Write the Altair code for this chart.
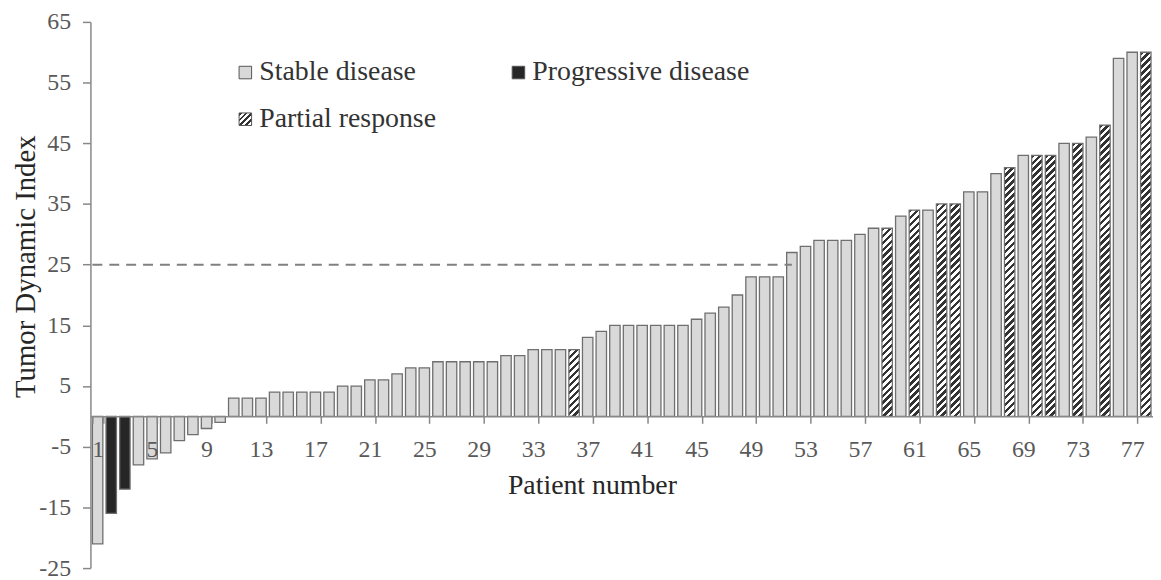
import json
import altair as alt
import pandas as pd

# ---------------- data ----------------
patients = list(range(1, 79))
tdi = [-21, -16, -12, -8, -7, -6, -4, -3, -2, -1,
       3, 3, 3, 4, 4, 4, 4, 4, 5, 5,
       6, 6, 7, 8, 8, 9, 9, 9, 9, 9,
       10, 10, 11, 11, 11, 11, 13, 14, 15, 15,
       15, 15, 15, 15, 16, 17, 18, 20, 23, 23,
       23, 27, 28, 29, 29, 29, 30, 31, 31, 33,
       34, 34, 35, 35, 37, 37, 40, 41, 43, 43,
       43, 45, 45, 46, 48, 59, 60, 60]
progressive_patients = [2, 3]
partial_patients = [36, 59, 61, 63, 64, 68, 70, 71, 73, 75, 78]
# legend is laid out column by column: this order gives
# row 1: Stable / Progressive, row 2: Partial
categories = ["Stable disease", "Partial response", "Progressive disease"]
x_tick_labels = list(range(1, 78, 4))
y_tick_values = list(range(-25, 66, 10))
threshold = 25
threshold_end_patient = 52

# ---------------- layout ----------------
W, H = 1070, 550
Y_MIN, Y_MAX = -25, 65
px_per_unit = H / (Y_MAX - Y_MIN)
pad_inner, pad_outer = 0.234, 0.146
step = W / (len(patients) - pad_inner + 2 * pad_outer)
bar_w = step * (1 - pad_inner)

FONT = "Liberation Serif"
GREY = "#888888"


def hatch(w, h, period=7.0, frac=0.5, dark="#333333", light="#ffffff"):
    """Linear gradient with hard stops giving '/' stripes on a w x h box."""
    L = w + h
    s = L / (w * w + h * h)
    stops = []
    k = 0
    while k * period < L:
        a = k * period / L
        b = min((k * period + frac * period) / L, 1.0)
        c = min((k + 1) * period / L, 1.0)
        stops += [(a, dark), (b, dark), (b, light), (c, light)]
        k += 1
    return {"gradient": "linear", "x1": 0, "y1": 0,
            "x2": round(s * w, 6), "y2": round(s * h, 6),
            "stops": [{"offset": round(o, 6), "color": col} for o, col in stops]}


def response_of(p):
    if p in progressive_patients:
        return "Progressive disease"
    if p in partial_patients:
        return "Partial response"
    return "Stable disease"


df = pd.DataFrame({
    "patient": patients,
    "tdi": tdi,
    "response": [response_of(p) for p in patients],
})

rule_df = pd.DataFrame({"start": [patients[0]], "end": [threshold_end_patient], "tdi": [threshold]})

# per-bar hatch gradients for partial responses
conds = []
for p in partial_patients:
    v = tdi[patients.index(p)]
    conds.append({"test": f"datum.patient === {p}",
                  "value": hatch(bar_w, abs(v) * px_per_unit, period=7.0)})

legend_grad_expr = json.dumps(hatch(12.6, 12.6, period=6.0))
color_range = {"Stable disease": "#d9d9d9",
               "Partial response": alt.ExprRef(expr=legend_grad_expr),
               "Progressive disease": "#262626"}

x_enc = alt.X(
    "patient:O",
    scale=alt.Scale(domain=patients, paddingInner=pad_inner, paddingOuter=pad_outer),
    title="Patient number",
    axis=alt.Axis(
        values=x_tick_labels, tickBand="extent", offset=-(0 - Y_MIN) * px_per_unit,
        labelAngle=0, tickSize=7, tickColor=GREY, tickWidth=1.5,
        domainColor=GREY, domainWidth=1.5, grid=False,
        labelFont=FONT, labelFontSize=24, labelColor="#595959", labelPadding=14,
        titleFont=FONT, titleFontSize=28, titleFontWeight="normal", titleColor="#262626",
        titleX=505, titleY=56, zindex=1,
    ),
)

y_enc = alt.Y(
    "tdi:Q",
    scale=alt.Scale(domain=[Y_MIN, Y_MAX], nice=False, zero=False),
    title="Tumor Dynamic Index",
    axis=alt.Axis(
        values=y_tick_values, labelExpr="'' + datum.value",
        tickSize=8, tickColor=GREY, tickWidth=1.5,
        domainColor=GREY, domainWidth=1.5, grid=False,
        labelFont=FONT, labelFontSize=24, labelColor="#595959", labelPadding=12,
        titleFont=FONT, titleFontSize=29, titleFontWeight="normal", titleColor="#262626",
        titleX=-65, titleY=246, titleBaseline="middle", titleAngle=270, titleAlign="center",
    ),
)

bars = alt.Chart(df).mark_bar(stroke="#6f6f6f", strokeWidth=1.3).encode(
    x=x_enc,
    y=y_enc,
    y2=alt.datum(0),
    fill=alt.Fill(
        "response:N",
        scale=alt.Scale(domain=categories, range=[color_range[c] for c in categories]),
        legend=alt.Legend(
            title=None, orient="none", legendX=142, legendY=37, columns=2,
            columnPadding=68, rowPadding=19, padding=0, labelLimit=500,
            symbolType="square", symbolSize=159, symbolStrokeColor="#555555",
            symbolStrokeWidth=1, labelFont=FONT, labelFontSize=28,
            labelColor="#333333", labelOffset=0,
        ),
        condition=conds,
    ),
)

rule = alt.Chart(rule_df).mark_rule(
    strokeDash=[10, 7], strokeWidth=2, color="#808080"
).encode(
    x=alt.X("start:O", bandPosition=0, title="Patient number"),
    x2="end:O",
    y=alt.Y("tdi:Q", title="Tumor Dynamic Index"),
)

chart = alt.layer(bars, rule).properties(
    width=W, height=H,
    autosize=alt.AutoSizeParams(type="none"),
    padding={"left": 83, "top": 12, "right": 0, "bottom": 10},
    background="white",
).configure_view(stroke=None)

chart.save("out.html", embed_options={"renderer": "svg", "actions": False})
